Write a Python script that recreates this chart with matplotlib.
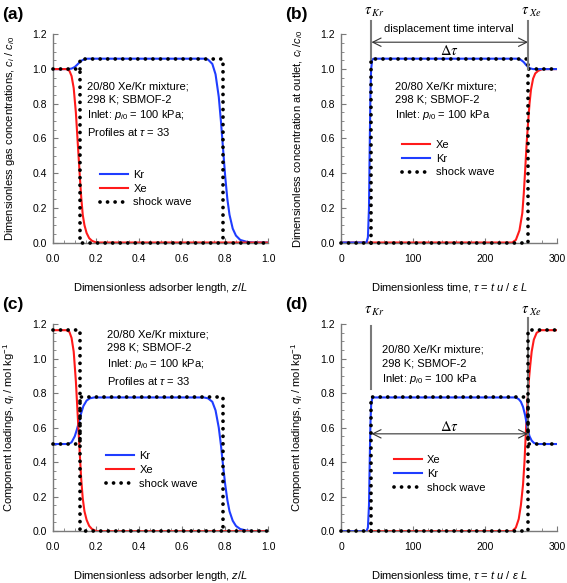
import matplotlib
matplotlib.use('Agg')
import matplotlib.pyplot as plt
from matplotlib.ticker import MultipleLocator

plt.rcParams['font.family'] = ['Liberation Sans', 'DejaVu Sans']
plt.rcParams['mathtext.fontset'] = 'custom'
plt.rcParams['mathtext.rm'] = 'Liberation Sans'
plt.rcParams['mathtext.it'] = 'Liberation Sans:italic'
plt.rcParams['mathtext.bf'] = 'Liberation Sans:bold'

# ---- data ----
# (a) gas phase profiles along the bed, tau = 33
z_kr_a = [0, 0.07, 0.085, 0.1, 0.115, 0.13, 0.145, 0.16, 0.7, 0.72, 0.74, 0.755, 0.77,
          0.78, 0.79, 0.8, 0.81, 0.82, 0.835, 0.85, 0.87, 0.9, 0.93, 1.0]
c_kr_a = [1, 1, 1.003, 1.012, 1.03, 1.048, 1.057, 1.06, 1.06, 1.055, 1.03, 0.97, 0.84,
          0.7, 0.54, 0.38, 0.25, 0.16, 0.08, 0.04, 0.015, 0.004, 0, 0]
z_xe_a = [0, 0.06, 0.075, 0.085, 0.095, 0.105, 0.115, 0.124, 0.13, 0.137, 0.145, 0.155,
          0.167, 0.18, 0.2, 1.0]
c_xe_a = [1, 1, 0.99, 0.96, 0.89, 0.75, 0.55, 0.37, 0.26, 0.16, 0.1, 0.055, 0.025, 0.01, 0, 0]
shock1_z_a = [0, 0.125, 0.125, 1.0]
shock1_c_a = [1.0, 1.0, 0.0, 0.0]
shock2_z_a = [0.125, 0.125, 0.79, 0.79]
shock2_c_a = [1.0, 1.06, 1.06, 0.0]

# (b) outlet concentrations vs time
t_xe_b = [0, 238, 243, 248, 252, 254, 256, 258, 260, 262, 264, 267, 270, 274, 280, 300]
c_xe_b = [0, 0, 0.015, 0.07, 0.17, 0.28, 0.42, 0.57, 0.69, 0.8, 0.88, 0.945, 0.975, 0.99, 1.0, 1.0]
t_kr_b = [0, 35, 37, 38.5, 39.5, 40.5, 41.5, 43, 45, 244, 248, 251, 254, 257, 260, 263, 267, 300]
c_kr_b = [0, 0, 0.03, 0.2, 0.55, 0.85, 1.0, 1.055, 1.06, 1.06, 1.058, 1.05, 1.04, 1.025,
          1.012, 1.004, 1.0, 1.0]
shock1_t_b = [0, 260, 260, 300]
shock1_c_b = [0, 0, 1.0, 1.0]
shock2_t_b = [42, 42, 260, 260]
shock2_c_b = [0, 1.06, 1.06, 1.0]

# (c) solid phase loadings along the bed, tau = 33
z_kr_c = [0, 0.07, 0.085, 0.1, 0.11, 0.12, 0.13, 0.14, 0.155, 0.17, 0.19, 0.7, 0.72, 0.74,
          0.755, 0.77, 0.78, 0.79, 0.8, 0.81, 0.82, 0.835, 0.85, 0.87, 0.9, 0.93, 1.0]
q_kr_c = [0.505, 0.505, 0.515, 0.55, 0.59, 0.635, 0.685, 0.725, 0.757, 0.77, 0.775, 0.775,
          0.77, 0.75, 0.7, 0.6, 0.5, 0.38, 0.27, 0.18, 0.115, 0.06, 0.03, 0.012, 0.003, 0, 0]
z_xe_c = [0, 0.06, 0.075, 0.085, 0.095, 0.105, 0.115, 0.124, 0.13, 0.137, 0.145, 0.155,
          0.167, 0.18, 0.2, 1.0]
q_xe_c = [1.165, 1.165, 1.155, 1.12, 1.04, 0.87, 0.64, 0.43, 0.3, 0.19, 0.115, 0.065,
          0.03, 0.012, 0, 0]
shock1_z_c = [0, 0.125, 0.125, 1.0]
shock1_q_c = [1.165, 1.165, 0.0, 0.0]
shock2_z_c = [0, 0.125, 0.125, 0.79, 0.79]
shock2_q_c = [0.505, 0.505, 0.775, 0.775, 0.0]

# (d) loadings at outlet vs time
t_xe_d = [0, 238, 243, 247, 250, 253, 255, 257, 259, 261, 263, 265, 268, 272, 278, 300]
q_xe_d = [0, 0, 0.02, 0.07, 0.15, 0.27, 0.4, 0.58, 0.74, 0.87, 0.96, 1.04, 1.11, 1.15,
          1.165, 1.165]
t_kr_d = [0, 35, 37, 38.5, 39.5, 40.5, 41.5, 43, 45, 243, 247, 250, 253, 256, 259, 262,
          265, 268, 272, 300]
q_kr_d = [0, 0, 0.02, 0.15, 0.4, 0.62, 0.73, 0.77, 0.775, 0.775, 0.765, 0.75, 0.72, 0.67,
          0.6, 0.55, 0.525, 0.512, 0.505, 0.505]
shock1_t_d = [0, 260, 260, 300]
shock1_q_d = [0, 0, 1.165, 1.165]
shock2_t_d = [42, 42, 260, 260, 300]
shock2_q_d = [0, 0.775, 0.775, 0.505, 0.505]

tau_kr = 42
tau_xe = 260

BLUE = '#1f3dff'
RED = '#ff1a1a'
GRAY = '#7a7a7a'
info = '20/80 Xe/Kr mixture;\n298 K; SBMOF-2\nInlet: $p_{i0}$ = 100 kPa'


def style_axes(ax, xmax, xmaj, xmin):
    ax.set_xlim(0, xmax)
    ax.set_ylim(0, 1.2)
    ax.xaxis.set_major_locator(MultipleLocator(xmaj))
    ax.xaxis.set_minor_locator(MultipleLocator(xmin))
    ax.yaxis.set_major_locator(MultipleLocator(0.2))
    ax.yaxis.set_minor_locator(MultipleLocator(0.05))
    ax.spines['top'].set_visible(False)
    ax.spines['right'].set_visible(False)
    for s in ('left', 'bottom'):
        ax.spines[s].set_color(GRAY)
        ax.spines[s].set_linewidth(1.0)
    ax.tick_params(which='both', direction='in', color=GRAY, labelsize=7.5)
    ax.tick_params(which='major', length=3.5, width=0.8)
    ax.tick_params(which='minor', length=2, width=0.6)
    ax.tick_params(axis='x', pad=8)
    ax.tick_params(axis='y', pad=4.5)
    if xmax == 1:
        ax.set_xticklabels(['%.1f' % v for v in ax.get_xticks()])
    ax.set_yticklabels(['%.1f' % v for v in ax.get_yticks()])
    ax.xaxis.set_label_coords(0.5, -0.185)
    ax.yaxis.set_label_coords(-0.17, 0.5)


def shock(ax, x, y, label=None):
    ax.plot(x, y, color='black', lw=2.7, ls=(0, (0.01, 2.0)),
            dash_capstyle='round', label=label, zorder=5, clip_on=False)


fig = plt.figure(figsize=(5.67, 5.83), dpi=100)
ax_a = fig.add_axes([0.094, 0.584, 0.379, 0.357])
ax_b = fig.add_axes([0.602, 0.584, 0.380, 0.357])
ax_c = fig.add_axes([0.094, 0.089, 0.379, 0.355])
ax_d = fig.add_axes([0.602, 0.089, 0.380, 0.355])

# (a)
ax = ax_a
ax.plot(z_kr_a, c_kr_a, color=BLUE, lw=1.5, label='Kr')
ax.plot(z_xe_a, c_xe_a, color=RED, lw=1.5, label='Xe')
shock(ax, shock1_z_a, shock1_c_a, 'shock wave')
shock(ax, shock2_z_a, shock2_c_a)
style_axes(ax, 1, 0.2, 0.05)
ax.set_xlabel('Dimensionless adsorber length, $z/L$', fontsize=8)
ax.set_ylabel('Dimensionless gas concentrations, $c_i$ / $c_{i0}$', fontsize=8)
ax.text(0.158, 0.775, info + ';\nProfiles at $\\tau$ = 33', transform=ax.transAxes,
        fontsize=8, va='top', ha='left', linespacing=1.4)
ax.legend(loc='upper left', bbox_to_anchor=(0.217, 0.35), frameon=False, fontsize=8,
          borderpad=0, borderaxespad=0, handlelength=2.5, handletextpad=0.5,
          labelspacing=0.35)

# (b)
ax = ax_b
ax.plot(t_xe_b, c_xe_b, color=RED, lw=1.5, label='Xe')
ax.plot(t_kr_b, c_kr_b, color=BLUE, lw=1.5, label='Kr')
shock(ax, shock1_t_b, shock1_c_b, 'shock wave')
shock(ax, shock2_t_b, shock2_c_b)
style_axes(ax, 300, 100, 20)
ax.set_xlabel(r'Dimensionless time, $\tau$ = $t\ u\ /\ \varepsilon\ L$', fontsize=8)
ax.set_ylabel('Dimensionless concentration at outlet, $c_i$ /$c_{i0}$', fontsize=8)
ax.text(0.2475, 0.775, info, transform=ax.transAxes, fontsize=8, va='top', ha='left',
        linespacing=1.4)
ax.legend(loc='upper left', bbox_to_anchor=(0.283, 0.494), frameon=False, fontsize=8,
          borderpad=0, borderaxespad=0, handlelength=2.5, handletextpad=0.5,
          labelspacing=0.35)
ax.plot([tau_kr, tau_kr], [1.06, 1.275], color=GRAY, lw=1.5, clip_on=False, zorder=6)
ax.plot([tau_xe, tau_xe], [1.0, 1.275], color=GRAY, lw=1.5, clip_on=False, zorder=6)
ax.annotate('', xy=(tau_kr, 1.155), xytext=(tau_xe, 1.155),
            arrowprops=dict(arrowstyle='<->,head_length=0.6,head_width=0.3',
                            color='#333333', lw=0.8, shrinkA=0, shrinkB=0),
            annotation_clip=False)
ax.text(150, 1.23, 'displacement time interval', fontsize=8, ha='center', va='center')
ax.text(151, 1.105, r'$\Delta\tau$', fontsize=10.5, ha='center', va='center',
        math_fontfamily='stix')
ax.text(tau_kr + 4, 1.33, r'$\tau_{\,Kr}$', fontsize=10.5, ha='center', va='center',
        math_fontfamily='stix', clip_on=False)
ax.text(tau_xe + 5, 1.33, r'$\tau_{\ Xe}$', fontsize=10.5, ha='center', va='center',
        math_fontfamily='stix', clip_on=False)

# (c)
ax = ax_c
ax.plot(z_kr_c, q_kr_c, color=BLUE, lw=1.5, label='Kr')
ax.plot(z_xe_c, q_xe_c, color=RED, lw=1.5, label='Xe')
shock(ax, shock1_z_c, shock1_q_c, 'shock wave')
shock(ax, shock2_z_c, shock2_q_c)
style_axes(ax, 1, 0.2, 0.05)
ax.set_xlabel('Dimensionless adsorber length, $z/L$', fontsize=8)
ax.set_ylabel('Component loadings, $q_i$ / mol kg$^{-1}$', fontsize=8)
ax.text(0.248, 0.975, info + ';\nProfiles at $\\tau$ = 33', transform=ax.transAxes,
        fontsize=8, va='top', ha='left', linespacing=1.4)
ax.legend(loc='upper left', bbox_to_anchor=(0.245, 0.386), frameon=False, fontsize=8,
          borderpad=0, borderaxespad=0, handlelength=2.5, handletextpad=0.5,
          labelspacing=0.35)

# (d)
ax = ax_d
ax.plot(t_xe_d, q_xe_d, color=RED, lw=1.5, label='Xe')
ax.plot(t_kr_d, q_kr_d, color=BLUE, lw=1.5, label='Kr')
shock(ax, shock1_t_d, shock1_q_d, 'shock wave')
shock(ax, shock2_t_d, shock2_q_d)
style_axes(ax, 300, 100, 20)
ax.set_xlabel(r'Dimensionless time, $\tau$ = $t\ u\ /\ \varepsilon\ L$', fontsize=8)
ax.set_ylabel('Component loadings, $q_i$ / mol kg$^{-1}$', fontsize=8)
ax.text(0.19, 0.9, info, transform=ax.transAxes, fontsize=8, va='top', ha='left',
        linespacing=1.4)
ax.legend(loc='upper left', bbox_to_anchor=(0.244, 0.367), frameon=False, fontsize=8,
          borderpad=0, borderaxespad=0, handlelength=2.5, handletextpad=0.5,
          labelspacing=0.35)
ax.plot([tau_kr, tau_kr], [0.825, 1.19], color=GRAY, lw=1.5, clip_on=False, zorder=6)
ax.plot([tau_xe, tau_xe], [0.56, 1.235], color=GRAY, lw=1.5, clip_on=False, zorder=4)
ax.annotate('', xy=(tau_kr, 0.564), xytext=(tau_xe, 0.564),
            arrowprops=dict(arrowstyle='<->,head_length=0.6,head_width=0.3',
                            color='#333333', lw=0.8, shrinkA=0, shrinkB=0),
            annotation_clip=False)
ax.text(150, 0.605, r'$\Delta\tau$', fontsize=10.5, ha='center', va='center',
        math_fontfamily='stix')
ax.text(tau_kr + 4, 1.275, r'$\tau_{\,Kr}$', fontsize=10.5, ha='center', va='center',
        math_fontfamily='stix', clip_on=False)
ax.text(tau_xe + 5, 1.275, r'$\tau_{\ Xe}$', fontsize=10.5, ha='center', va='center',
        math_fontfamily='stix', clip_on=False)

# panel letters
for lab, x, y in [('(a)', 0.003, 0.988), ('(b)', 0.502, 0.988),
                  ('(c)', 0.003, 0.49), ('(d)', 0.502, 0.49)]:
    fig.text(x, y, lab, fontsize=12.5, fontweight='bold', ha='left', va='top')

fig.savefig('out.png', dpi=100)
